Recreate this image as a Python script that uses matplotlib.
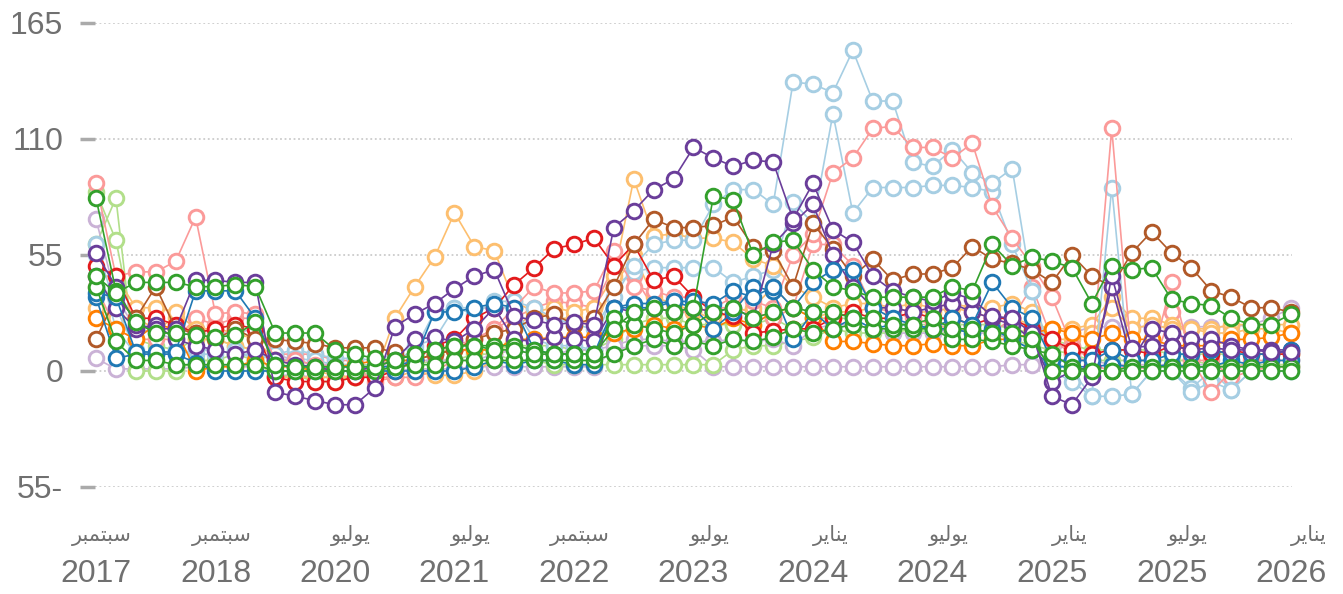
import numpy as np
import matplotlib
matplotlib.use("Agg")
from matplotlib import pyplot as plt

# tick labels (categorical x axis, one label every 6 points)
months = ["سبتمبر", "سبتمبر", "يوليو", "يوليو", "سبتمبر", "يوليو",
          "يناير", "يوليو", "يناير", "يوليو", "يناير"]
years = ["2017", "2018", "2020", "2021", "2022", "2023",
         "2024", "2024", "2025", "2025", "2026"]
ytick_vals = [-55, 0, 55, 110, 165]
ytick_labels = ["55-", "0", "55", "110", "165"]

# series values (61 points each)
purple_a = [56, 40, 22, 20, 20, 43, 43, 42, 42, -10,
            -12, -14, -16, -16, -8, 21, 27, 32, 39, 45,
            48, 26, 24, 22, 23, 22, 68, 76, 86, 91,
            106, 101, 97, 100, 99, 72, 89, 67, 61, 45,
            38, 35, 33, 37, 34, 26, 25, 18, -12, -16,
            -3, 45, 11, 12, 12, 10, 11, 10, 10, 9, 9]
purple_b = [45, 30, 20, 22, 15, 12, 10, 8, 10, 5,
            3, 2, 0, 0, 2, 5, 15, 16, 14, 20,
            30, 15, 14, 16, 15, 14, 30, 28, 30, 28,
            30, 28, 30, 25, 60, 70, 79, 55, 40, 30,
            30, 28, 30, 32, 28, 25, 22, 15, -5, 0,
            2, 40, 5, 20, 18, 15, 15, 12, 10, 10, 10]
lpurple_a = [72, 35, 20, 18, 15, 20, 18, 18, 20, 8,
             5, 3, 3, 2, 2, 3, 5, 5, 5, 5,
             8, 10, 8, 8, 10, 10, 12, 15, 15, 14,
             14, 14, 15, 14, 15, 12, 20, 22, 22, 20,
             18, 18, 18, 20, 18, 18, 15, 10, 5, 18,
             21, 21, 21, 21, 21, 21, 21, 21, 22, 25, 30]
lpurple_b = [6, 1, 1, 1, 1, 2, 3, 2, 2, -2,
             -2, -3, -3, -3, -1, 0, 1, 1, 1, 2,
             2, 2, 2, 2, 2, 2, 10, 12, 12, 12,
             10, 2, 2, 2, 2, 2, 2, 2, 2, 2,
             2, 2, 2, 2, 2, 2, 3, 3, 5, 5,
             5, 3, 3, 3, 3, 3, 3, 3, 3, 3, 3]
lblue_a = [60, 30, 10, 8, 8, 10, 10, 8, 8, 5,
           6, 5, 3, 3, 2, 5, 10, 28, 30, 27,
           33, 33, 30, 25, 22, 20, 35, 50, 60, 62,
           62, 79, 86, 86, 79, 137, 136, 132, 152, 128,
           128, 99, 97, 105, 94, 89, 96, 38, 5, 0,
           -12, 87, -11, 0, 0, -10, -5, -9, 0, 0, 0]
lblue_b = [55, 20, 8, 8, 10, 8, 8, 10, 5, 8,
           10, 8, 6, 6, 5, 8, 12, 15, 30, 30,
           30, 30, 15, 12, 12, 10, 40, 47, 49, 49,
           49, 49, 42, 45, 48, 80, 70, 122, 75, 87,
           87, 87, 88, 88, 87, 85, 60, 38, 0, -5,
           -12, -12, -11, 0, 0, -8, 0, -9, 0, 0, 0]
pink_a = [89, 45, 47, 47, 52, 73, 27, 28, 27, 5,
          5, 3, 2, 2, -5, -3, 8, 10, 12, 15,
          20, 30, 40, 37, 37, 38, 57, 40, 38, 35,
          35, 30, 35, 33, 30, 55, 65, 94, 101, 115,
          116, 106, 106, 101, 108, 78, 63, 50, 35, 12,
          5, 115, 5, 5, 42, 5, -10, 0, 5, 5, 5]
pink_b = [40, 20, 15, 15, 15, 25, 22, 25, 25, 8,
          8, 8, 5, 5, -3, -3, -3, 0, 5, 15,
          20, 25, 30, 33, 32, 30, 50, 45, 30, 28,
          28, 30, 30, 28, 25, 30, 60, 60, 50, 30,
          28, 25, 22, 20, 20, 18, 25, 40, 15, 8,
          3, 0, 3, 0, 28, 5, 5, -3, 0, 2, 2]
red = [50, 45, 25, 25, 22, 18, 20, 22, 20, -3,
       -5, -5, -5, -3, -3, 0, 5, 12, 15, 25,
       30, 41, 49, 58, 60, 63, 50, 60, 43, 45,
       35, 28, 26, 18, 19, 20, 20, 25, 28, 25,
       25, 28, 25, 25, 22, 25, 25, 20, 15, 10,
       8, 10, 10, 8, 12, 10, 8, 10, 8, 8, 8]
lorange_a = [45, 45, 30, 30, 28, 20, 20, 18, 15, 5,
             3, 0, -2, -3, -2, 25, 40, 54, 75, 59,
             57, 33, 28, 30, 28, 30, 45, 91, 64, 65,
             63, 63, 61, 53, 50, 40, 35, 30, 32, 32,
             30, 32, 30, 32, 30, 30, 32, 28, 15, 15,
             18, 30, 20, 22, 20, 20, 18, 18, 20, 20, 18]
lorange_b = [30, 25, 25, 20, 25, 15, 15, 12, 10, -3,
             -3, -3, -3, -3, 2, -3, 0, -2, -2, 0,
             5, 20, 28, 25, 25, 22, 40, 55, 35, 32,
             28, 25, 28, 30, 40, 30, 25, 28, 28, 30,
             30, 28, 28, 30, 28, 25, 25, 22, 20, 20,
             22, 35, 25, 25, 22, 20, 20, 22, 22, 22, 22]
orange = [25, 20, 15, 22, 20, 0, 2, 2, 5, 2,
          2, 0, 2, 3, 5, 5, 5, 8, 10, 10,
          10, 15, 15, 16, 16, 16, 18, 20, 22, 20,
          22, 20, 25, 22, 28, 30, 25, 14, 14, 13,
          12, 12, 13, 12, 12, 15, 15, 18, 20, 18,
          15, 18, 15, 15, 12, 12, 12, 15, 15, 16, 18]
brown = [15, 35, 25, 40, 20, 18, 15, 20, 15, 15,
         14, 13, 11, 11, 11, 9, 5, 8, 10, 15,
         18, 20, 25, 27, 22, 25, 40, 60, 72, 68,
         68, 69, 73, 59, 57, 40, 70, 58, 45, 53,
         43, 46, 46, 49, 59, 53, 51, 48, 42, 55,
         45, 40, 56, 66, 56, 49, 38, 35, 30, 30, 28]
green_a = [45, 37, 42, 42, 42, 40, 40, 41, 40, 18,
           18, 18, 10, 8, 6, 5, 8, 10, 12, 12,
           10, 10, 8, 8, 8, 8, 20, 28, 30, 28,
           30, 83, 81, 55, 61, 62, 48, 40, 38, 35,
           35, 35, 35, 40, 38, 60, 50, 54, 52, 49,
           32, 50, 48, 49, 34, 32, 31, 25, 22, 22, 27]
green_b = [82, 38, 23, 18, 18, 17, 16, 17, 23, 3,
           2, 2, 2, 2, 2, 5, 8, 10, 12, 12,
           12, 12, 10, 8, 8, 8, 25, 22, 20, 18,
           22, 28, 30, 25, 28, 30, 28, 28, 25, 25,
           22, 22, 25, 20, 20, 18, 18, 15, 0, 0,
           0, 0, 0, 0, 0, 0, 0, 0, 0, 0, 0]
green_c = [40, 14, 5, 5, 3, 3, 3, 3, 3, 0,
           0, 0, 0, 0, 0, 2, 3, 3, 5, 5,
           5, 5, 5, 5, 5, 5, 8, 12, 15, 12,
           14, 12, 15, 14, 16, 20, 18, 20, 22, 20,
           20, 20, 20, 15, 15, 14, 12, 10, 8, 2,
           0, 0, 2, 2, 2, 2, 2, 2, 2, 2, 2]
blue_a = [37, 35, 9, 9, 9, 38, 38, 38, 25, 3,
          2, 2, 2, 2, 2, 2, 5, 28, 28, 30,
          32, 30, 10, 8, 8, 8, 30, 32, 32, 33,
          33, 32, 38, 35, 40, 30, 42, 48, 48, 30,
          25, 22, 20, 25, 22, 42, 30, 25, 5, 5,
          5, 10, 5, 5, 8, 8, 10, 8, 8, 8, 10]
blue_b = [35, 6, 8, 8, 8, 4, 0, 0, 0, 0,
          0, 0, 0, 0, 0, 0, 0, 0, 0, 2,
          5, 3, 5, 5, 3, 3, 30, 30, 30, 33,
          30, 20, 28, 40, 38, 15, 28, 20, 25, 20,
          22, 22, 20, 20, 18, 20, 15, 10, 2, 2,
          2, 3, 2, 2, 3, 2, 2, 5, 3, 5, 5]
lgreen_a = [60, 82, 0, 0, 0, 5, 5, 8, 5, -3,
            -2, -5, -5, -3, 0, 2, 3, 5, 5, 8,
            8, 5, 5, 3, 3, 3, 3, 3, 3, 3,
            3, 3, 10, 12, 12, 14, 16, 20, 18, 18,
            18, 20, 18, 18, 20, 18, 15, 12, 10, 8,
            5, 5, 5, 5, 5, 5, 3, 3, 3, 3, 3]
lgreen_b = [85, 62, 15, 12, 10, 15, 15, 12, 10, 5,
            5, 3, 3, 3, 3, 5, 5, 8, 10, 10,
            10, 12, 12, 12, 10, 10, 15, 22, 25, 25,
            22, 22, 22, 22, 25, 20, 25, 25, 25, 25,
            22, 22, 22, 22, 22, 22, 20, 18, 15, 12,
            10, 10, 10, 10, 8, 8, 8, 8, 8, 8, 8]

# draw order: light series underneath, dark ones on top
series = [
    (lpurple_b, "#cab2d6"), (lgreen_a, "#b2df8a"), (lgreen_b, "#b2df8a"),
    (lpurple_a, "#cab2d6"), (pink_b, "#fb9a99"), (lorange_b, "#fdbf6f"),
    (lblue_b, "#a6cee3"), (lorange_a, "#fdbf6f"), (lblue_a, "#a6cee3"),
    (pink_a, "#fb9a99"), (orange, "#ff7f00"), (red, "#e31a1c"),
    (brown, "#b15928"), (blue_b, "#1f78b4"), (purple_b, "#6a3d9a"),
    (blue_a, "#1f78b4"), (green_c, "#33a02c"), (purple_a, "#6a3d9a"),
    (green_b, "#33a02c"), (green_a, "#33a02c"),
]

# matplotlib has no arabic shaping, so pick presentation forms by hand
AR_FORMS = {
    'ا': ('\uFE8D', '\uFE8E', None, None),
    'ب': ('\uFE8F', '\uFE90', '\uFE91', '\uFE92'),
    'ت': ('\uFE95', '\uFE96', '\uFE97', '\uFE98'),
    'ر': ('\uFEAD', '\uFEAE', None, None),
    'س': ('\uFEB1', '\uFEB2', '\uFEB3', '\uFEB4'),
    'ل': ('\uFEDD', '\uFEDE', '\uFEDF', '\uFEE0'),
    'م': ('\uFEE1', '\uFEE2', '\uFEE3', '\uFEE4'),
    'ن': ('\uFEE5', '\uFEE6', '\uFEE7', '\uFEE8'),
    'و': ('\uFEED', '\uFEEE', None, None),
    'ي': ('\uFEF1', '\uFEF2', '\uFEF3', '\uFEF4'),
}


def shape_ar(word):
    out = []
    n = len(word)
    for k, c in enumerate(word):
        iso, fin, ini, med = AR_FORMS[c]
        prev_joins = k > 0 and AR_FORMS[word[k - 1]][2] is not None
        next_joins = k < n - 1 and ini is not None
        if prev_joins and next_joins:
            out.append(med)
        elif prev_joins:
            out.append(fin)
        elif next_joins:
            out.append(ini)
        else:
            out.append(iso)
    return "".join(reversed(out))


plt.rcParams['font.family'] = ['Liberation Sans', 'DejaVu Sans']

fig = plt.figure(figsize=(13.43, 5.94), dpi=100)
ax = fig.add_axes([95 / 1343, 1 - 487 / 594, 1197 / 1343, 464 / 594])

x = np.arange(len(purple_a))
for vals, col in series:
    ax.plot(x, vals, color=col, lw=1.2, marker='o', ms=10.5, mfc='white',
            mec=col, mew=2.1, clip_on=False)

ax.set_xlim(-0.05, 60.05)
ax.set_ylim(-55, 165)
ax.set_yticks(ytick_vals)
ax.set_yticklabels(ytick_labels)
ax.tick_params(axis='y', length=11, width=2.5, color='#aaaaaa', pad=12,
               labelsize=23, labelcolor='#707070')
ax.set_xticks([])
ax.grid(axis='y', linestyle=(0, (1, 1.5)), color='#cccccc', lw=1.3)
ax.set_axisbelow(True)
for s in ax.spines.values():
    s.set_visible(False)

tick_pos = np.arange(0, 61, 6)
for pos, m, yr in zip(tick_pos, months, years):
    ax.annotate(yr, xy=(pos, 0), xycoords=('data', 'axes fraction'),
                xytext=(0, -63), textcoords='offset points',
                ha='center', va='center', fontsize=23, color='#707070')
    ax.annotate(shape_ar(m), xy=(pos, 0), xycoords=('data', 'axes fraction'),
                xytext=(26, -35), textcoords='offset points',
                ha='right', va='center', fontsize=15, color='#707070',
                family='DejaVu Sans')

fig.savefig("out.png", dpi=100)
